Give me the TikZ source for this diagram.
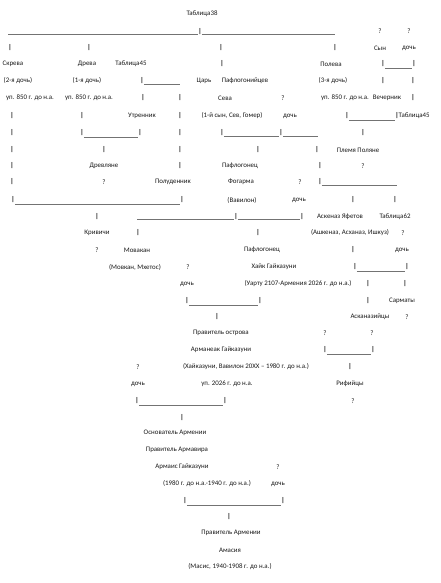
\documentclass[tikz,border=0pt]{standalone}
\usepackage{fontspec}
\setmainfont{Carlito}
\begin{document}
\begin{tikzpicture}[x=1pt,y=-1pt,
  t/.style={inner sep=0pt,font=\fontsize{6.9}{7}\selectfont,text=black!90},
  tw/.style={t,anchor=west},
  pp/.style={inner sep=0pt,font=\fontsize{6.9}{7}\selectfont\bfseries},
  ul/.style={draw=black!55,line width=0.6pt}]
\useasboundingbox[fill=white] (0,0) rectangle (440,583);
% row 14
\node[t] (a1) at (202,14) {Таблица38};
% row 31
\node[t] (a2) at (380,31) {?};
\node[t] (a3) at (409,31) {?};
\node[pp] (p1) at (200,32) {|};
\coordinate (l1a) at (8,34); \coordinate (l1b) at (335,34);
\draw[ul] (l1a) -- (p1.south west |- l1a);
\draw[ul] (p1.south east |- l1a) -- (l1b);
% row 48
\node[pp] (p2) at (10,48) {|};
\node[pp] (p3) at (89,48) {|};
\node[pp] (p4) at (221,48) {|};
\node[pp] (p5) at (335,48) {|};
\node[t] (a4) at (380,48) {Сын};
\node[t] (a5) at (409,48) {дочь};
% row 64
\node[t] (a6) at (13,64) {Скрева};
\node[t] (a7) at (87,64) {Древа};
\node[t] (a8) at (131,64) {Таблица45};
\node[pp] (p6) at (222,64) {|};
\node[t] (a9) at (331,64) {Полева};
\node[pp] (p7) at (383,64) {|};
\node[pp] (p8) at (414,64) {|};
\draw[ul] ([yshift=-1]p7.south east) -- ([yshift=-1]p8.south west);
% row 81
\node[t] (a10) at (18,81) {(2-я дочь)};
\node[t] (a11) at (87,81) {(1-я дочь)};
\node[pp] (p9) at (142,81) {|};
\coordinate (l3) at (180,84);
\draw[ul] (p9.south east |- l3) -- (l3);
\node[t] (a12) at (204,81) {Царь};
\node[t] (a13) at (245,81) {Пафлогонийцев};
\node[t] (a14) at (333,81) {(3-я дочь)};
\node[pp] (p10) at (383,81) {|};
\node[pp] (p11) at (413,81) {|};
% row 98
\node[t] (a15) at (30,98) {уп. 850 г. до н.а.};
\node[t] (a16) at (89,98) {уп. 850 г. до н.а.};
\node[pp] (p12) at (143,98) {|};
\node[pp] (p13) at (180,98) {|};
\node[t] (a17) at (225,98) {Сева};
\node[t] (a18) at (283,98) {?};
\node[t] (a19) at (345,98) {уп. 850 г. до н.а.};
\node[t] (a20) at (387,98) {Вечерник};
\node[pp] (p14) at (413,98) {|};
% row 116
\node[pp] (p15) at (12,116) {|};
\node[pp] (p16) at (82,116) {|};
\node[t] (a21) at (142,116) {Утренник};
\node[pp] (p17) at (180,116) {|};
\node[t] (a22) at (232,116) {(1-й сын, Сев, Гомер)};
\node[t] (a23) at (290,116) {дочь};
\node[pp] (p18) at (347,116) {|};
\node[pp] (p19) at (397,116) {|};
\draw[ul] ([yshift=-1]p18.south east) -- ([yshift=-1]p19.south west);
\node[tw] (a24) at (398.5,116) {Таблица45};
% row 133
\node[pp] (p20) at (12,133) {|};
\node[pp] (p21) at (82,133) {|};
\node[pp] (p22) at (140,133) {|};
\draw[ul] ([yshift=-1]p21.south east) -- ([yshift=-1]p22.south west);
\node[pp] (p23) at (180,133) {|};
\node[pp] (p24) at (222,133) {|};
\node[pp] (p25) at (281,133) {|};
\coordinate (l6) at (318,136);
\draw[ul] (p24.south east |- l6) -- (p25.south west |- l6);
\draw[ul] (p25.south east |- l6) -- (l6);
\node[pp] (p26) at (363,133) {|};
% row 150
\node[pp] (p27) at (12,150) {|};
\node[pp] (p28) at (104,150) {|};
\node[pp] (p29) at (180,150) {|};
\node[pp] (p30) at (258,150) {|};
\node[pp] (p31) at (317,150) {|};
\node[t] (a25) at (358,150) {Племя Поляне};
% row 166
\node[pp] (p32) at (12,166) {|};
\node[t] (a26) at (104,166) {Древляне};
\node[pp] (p33) at (180,166) {|};
\node[t] (a27) at (240,166) {Пафлогонец};
\node[pp] (p34) at (320,166) {|};
\node[t] (a28) at (363,166) {?};
% row 182
\node[pp] (p35) at (12,182) {|};
\node[t] (a29) at (104,182) {?};
\node[t] (a30) at (173,182) {Полуденник};
\node[t] (a31) at (241,182) {Фогарма};
\node[t] (a32) at (300,182) {?};
\node[pp] (p36) at (320,182) {|};
\coordinate (l7) at (397,185);
\draw[ul] (p36.south east |- l7) -- (l7);
% row 200
\node[pp] (p37) at (13,200) {|};
\node[pp] (p38) at (182,200) {|};
\draw[ul] ([yshift=-1]p37.south east) -- ([yshift=-1]p38.south west);
\node[t] (a33) at (242,200) {(Вавилон)};
\node[t] (a34) at (299,200) {дочь};
\node[pp] (p39) at (353,200) {|};
\node[pp] (p40) at (395,200) {|};
% row 217
\node[pp] (p41) at (97,217) {|};
\coordinate (l9) at (137,219);
\node[pp] (p42) at (236,217) {|};
\node[pp] (p43) at (302,217) {|};
\draw[ul] (l9) -- (p42.south west |- l9);
\draw[ul] (p42.south east |- l9) -- (p43.south west |- l9);
\node[t] (a35) at (340,217) {Аскеназ Яфетов};
\node[t] (a36) at (395,217) {Таблица62};
% row 233
\node[t] (a37) at (97,233) {Кривичи};
\node[pp] (p44) at (138,233) {|};
\node[pp] (p45) at (258,233) {|};
\node[t] (a38) at (350,233) {(Ашкеназ, Асханаз, Ишкуз)};
\node[t] (a39) at (403,233) {?};
% row 250
\node[t] (a40) at (97,250) {?};
\node[t] (a41) at (137,250) {Мовакан};
\node[t] (a42) at (262,250) {Пафлогонец};
\node[pp] (p46) at (353,250) {|};
\node[t] (a43) at (402,250) {дочь};
% row 267
\node[t] (a44) at (135,267) {(Мовкан, Мхетос)};
\node[t] (a45) at (188,267) {?};
\node[t] (a46) at (274,267) {Хайк Гайказуни};
\node[pp] (p47) at (355,267) {|};
\node[pp] (p48) at (407,267) {|};
\draw[ul] ([yshift=-1]p47.south east) -- ([yshift=-1]p48.south west);
% row 284
\node[t] (a47) at (187,284) {дочь};
\node[t] (a48) at (298,284) {(Уарту 2107-Армения 2026 г. до н.а.)};
\node[pp] (p49) at (368,284) {|};
\node[pp] (p50) at (405,284) {|};
% row 301
\node[pp] (p51) at (187,301) {|};
\node[pp] (p52) at (260,301) {|};
\draw[ul] ([yshift=-1]p51.south east) -- ([yshift=-1]p52.south west);
\node[pp] (p53) at (368,301) {|};
\node[t] (a49) at (402,301) {Сарматы};
% row 317
\node[pp] (p54) at (217,317) {|};
\node[t] (a50) at (370,317) {Асканазийцы};
\node[t] (a51) at (407,317) {?};
% row 333
\node[t] (a52) at (221,333) {Правитель острова};
\node[t] (a53) at (325,333) {?};
\node[t] (a54) at (372,333) {?};
% row 350
\node[t] (a55) at (221,350) {Арманеак Гайказуни};
\node[pp] (p55) at (325,350) {|};
\node[pp] (p56) at (373,350) {|};
\draw[ul] ([yshift=-1]p55.south east) -- ([yshift=-1]p56.south west);
% row 367
\node[t] (a56) at (138,367) {?};
\node[t] (a57) at (246,367) {(Хайказуни, Вавилон 20ХХ – 1980 г. до н.а.)};
\node[pp] (p57) at (350,367) {|};
% row 384
\node[t] (a58) at (138,384) {дочь};
\node[t] (a59) at (227,384) {уп. 2026 г. до н.а.};
\node[t] (a60) at (350,384) {Рифийцы};
% row 401
\node[pp] (p58) at (137,401) {|};
\node[pp] (p59) at (225,401) {|};
\draw[ul] ([yshift=-1]p58.south east) -- ([yshift=-1]p59.south west);
\node[t] (a61) at (353,401) {?};
% row 418
\node[pp] (p60) at (182,418) {|};
% rows 433-484
\node[t] (a62) at (175,433) {Основатель Армении};
\node[t] (a63) at (177,450) {Правитель Армавира};
\node[t] (a64) at (182,467) {Армаис Гайказуни};
\node[t] (a65) at (278,467) {?};
\node[t] (a66) at (207,484) {(1980 г. до н.а.-1940 г. до н.а.)};
\node[t] (a67) at (278,484) {дочь};
% row 501
\node[pp] (p61) at (185,501) {|};
\node[pp] (p62) at (283,501) {|};
\draw[ul] ([yshift=-1]p61.south east) -- ([yshift=-1]p62.south west);
% row 517
\node[pp] (p63) at (229,517) {|};
% bottom
\node[t] (a68) at (231,533) {Правитель Армении};
\node[t] (a69) at (230,550) {Амасия};
\node[t] (a70) at (230,567) {(Масис, 1940-1908 г. до н.а.)};
\end{tikzpicture}
\end{document}
